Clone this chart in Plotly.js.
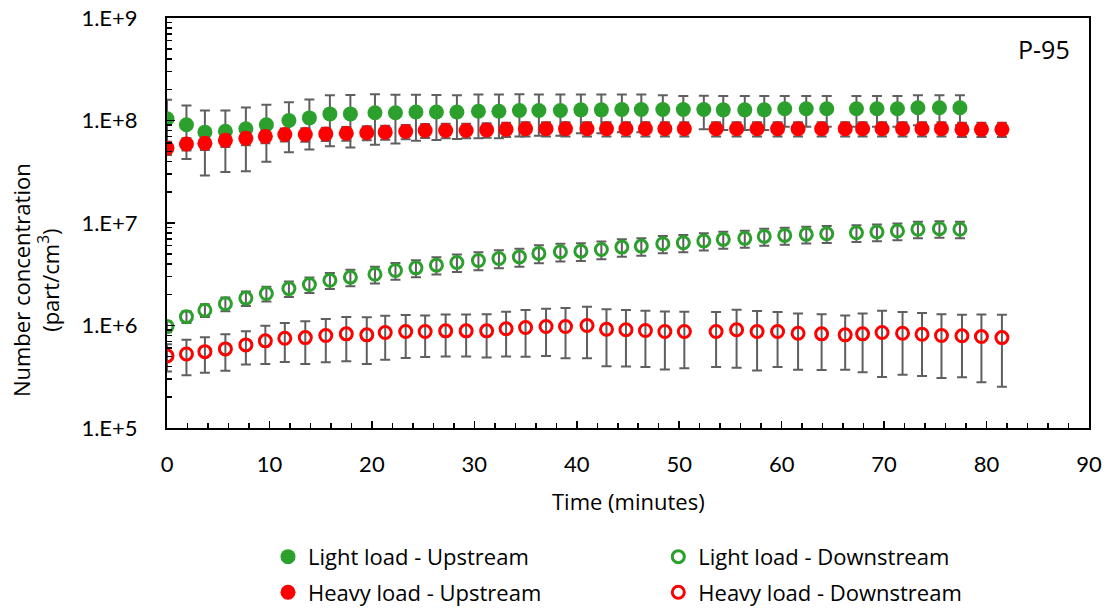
<!DOCTYPE html>
<html>
<head>
<meta charset="utf-8">
<script src="https://cdn.plot.ly/plotly-3.0.1.min.js"></script>
<style>html,body{margin:0;padding:0;background:#fff;}#chart{width:1112px;height:611px;}</style>
</head>
<body>
<div id="chart"></div>
<script>
// Time (minutes) for light-load runs
const timeLight = [0, 1.9, 3.7, 5.7, 7.7, 9.7, 11.9, 13.9, 15.9, 17.9, 20.3, 22.3, 24.3, 26.3, 28.3,
  30.4, 32.4, 34.4, 36.3, 38.4, 40.4, 42.4, 44.4, 46.3, 48.4, 50.4, 52.4, 54.3, 56.4, 58.3,
  60.3, 62.4, 64.4, 67.3, 69.3, 71.3, 73.3, 75.4, 77.4];
// Time (minutes) for heavy-load runs
const timeHeavy = [0, 1.9, 3.7, 5.7, 7.7, 9.6, 11.5, 13.5, 15.5, 17.5, 19.5, 21.3, 23.3, 25.2, 27.2, 29.2,
  31.2, 33.1, 35.0, 37.0, 38.9, 41.0, 42.9, 44.8, 46.7, 48.6, 50.5, 53.6, 55.6, 57.6,
  59.6, 61.6, 63.9, 66.2, 67.9, 69.8, 71.8, 73.7, 75.6, 77.6, 79.5, 81.5];

const lightUp = [1.04e8, 9.1e7, 7.7e7, 7.85e7, 8.3e7, 9.1e7, 1.0e8, 1.06e8, 1.16e8, 1.16e8, 1.19e8, 1.19e8, 1.21e8, 1.21e8, 1.21e8,
  1.23e8, 1.23e8, 1.25e8, 1.25e8, 1.25e8, 1.27e8, 1.27e8, 1.28e8, 1.28e8, 1.28e8, 1.28e8, 1.28e8, 1.27e8, 1.27e8, 1.27e8,
  1.30e8, 1.30e8, 1.30e8, 1.30e8, 1.30e8, 1.30e8, 1.33e8, 1.33e8, 1.33e8];
const lightUpErr = [5.5e7, 4.9e7, 4.8e7, 4.7e7, 5.1e7, 5.15e7, 5.1e7, 5.4e7, 6.0e7, 6.15e7, 6.1e7, 5.95e7, 5.75e7, 5.65e7, 5.5e7,
  5.6e7, 5.6e7, 5.5e7, 5.4e7, 5.4e7, 5.2e7, 5.2e7, 5.1e7, 5.1e7, 4.8e7, 4.5e7, 4.6e7, 4.6e7, 4.6e7, 4.6e7,
  4.3e7, 4.3e7, 4.3e7, 4.3e7, 4.3e7, 4.3e7, 4.3e7, 4.3e7, 4.3e7];

const lightDown = [9.8e5, 1.22e6, 1.41e6, 1.63e6, 1.85e6, 2.05e6, 2.29e6, 2.51e6, 2.76e6, 2.96e6, 3.16e6, 3.44e6, 3.65e6, 3.88e6, 4.12e6,
  4.31e6, 4.51e6, 4.67e6, 5.05e6, 5.24e6, 5.31e6, 5.52e6, 5.82e6, 5.95e6, 6.27e6, 6.41e6, 6.67e6, 6.92e6, 7.08e6, 7.4e6,
  7.57e6, 7.75e6, 7.86e6, 8.03e6, 8.17e6, 8.35e6, 8.68e6, 8.80e6, 8.68e6];
const lightDownErr = [1.2e5, 1.6e5, 2.0e5, 2.5e5, 3.0e5, 3.4e5, 3.9e5, 4.3e5, 4.9e5, 5.4e5, 5.9e5, 6.4e5, 6.9e5, 7.4e5, 8.0e5,
  8.6e5, 9.0e5, 9.3e5, 1.0e6, 1.03e6, 1.05e6, 1.08e6, 1.13e6, 1.15e6, 1.2e6, 1.23e6, 1.27e6, 1.3e6, 1.33e6, 1.4e6,
  1.42e6, 1.45e6, 1.47e6, 1.5e6, 1.52e6, 1.55e6, 1.6e6, 1.62e6, 1.6e6];

const heavyUp = [5.4e7, 5.9e7, 6.0e7, 6.4e7, 6.7e7, 7.0e7, 7.3e7, 7.3e7, 7.4e7, 7.5e7, 7.6e7, 7.7e7, 7.8e7, 8.0e7, 8.0e7, 8.0e7,
  8.1e7, 8.2e7, 8.3e7, 8.3e7, 8.3e7, 8.3e7, 8.3e7, 8.3e7, 8.3e7, 8.3e7, 8.3e7, 8.3e7, 8.3e7, 8.3e7,
  8.3e7, 8.3e7, 8.3e7, 8.3e7, 8.3e7, 8.3e7, 8.3e7, 8.3e7, 8.3e7, 8.2e7, 8.2e7, 8.2e7];
const heavyUpErr = [8e6, 8e6, 8.5e6, 9e6, 9.5e6, 1.0e7, 1.05e7, 1.1e7, 1.1e7, 1.15e7, 1.2e7, 1.2e7, 1.25e7, 1.25e7, 1.3e7, 1.3e7,
  1.3e7, 1.3e7, 1.3e7, 1.3e7, 1.3e7, 1.3e7, 1.3e7, 1.3e7, 1.3e7, 1.3e7, 1.3e7, 1.3e7, 1.3e7, 1.3e7,
  1.3e7, 1.3e7, 1.3e7, 1.3e7, 1.3e7, 1.3e7, 1.3e7, 1.3e7, 1.3e7, 1.3e7, 1.3e7, 1.3e7];

const heavyDown = [5.05e5, 5.27e5, 5.56e5, 5.91e5, 6.47e5, 7.08e5, 7.5e5, 7.62e5, 7.98e5, 8.29e5, 8.11e5, 8.54e5, 8.73e5, 8.73e5, 8.87e5, 8.87e5,
  8.87e5, 9.29e5, 9.56e5, 9.78e5, 9.78e5, 1.0e6, 9.2e5, 9.08e5, 8.94e5, 8.73e5, 8.73e5, 8.73e5, 9.08e5, 8.73e5,
  8.73e5, 8.41e5, 8.29e5, 8.11e5, 8.29e5, 8.54e5, 8.41e5, 8.22e5, 7.98e5, 7.93e5, 7.8e5, 7.62e5];
const heavyDownErr = [1.5e5, 2.0e5, 2.1e5, 2.3e5, 2.3e5, 2.86e5, 3.1e5, 3.4e5, 3.6e5, 3.8e5, 3.9e5, 3.9e5, 3.9e5, 3.8e5, 3.9e5, 3.9e5,
  4.0e5, 4.3e5, 4.6e5, 4.75e5, 5.0e5, 5.2e5, 5.2e5, 5.1e5, 5.0e5, 5.0e5, 4.9e5, 4.8e5, 5.2e5, 5.1e5,
  4.8e5, 4.7e5, 4.6e5, 4.4e5, 4.8e5, 5.4e5, 5.1e5, 5.0e5, 4.9e5, 4.8e5, 5.0e5, 5.1e5];

const seriesNames = ['Light load - Upstream', 'Light load - Downstream', 'Heavy load - Upstream', 'Heavy load - Downstream'];
const yTickVals = [1e5, 1e6, 1e7, 1e8, 1e9];
const yTickText = ['1.E+5', '1.E+6', '1.E+7', '1.E+8', '1.E+9'];
const xTickVals = [0, 10, 20, 30, 40, 50, 60, 70, 80, 90];
const xTitle = 'Time (minutes)';
const yTitle = 'Number concentration<br>(part/cm<sup>3</sup>)';
const panelLabel = 'P-95';

const GREEN = '#2CA02C', RED = '#FF0000', ERRC = '#5F5F5F';
const TICKFONT = 'Lato, Carlito, Calibri, sans-serif';
const TEXTFONT = '"Open Sans", Carlito, Calibri, sans-serif';

function errBar(arr) {
  return {type: 'data', array: arr, visible: true, color: ERRC, thickness: 2, width: 5};
}

const traces = [
  {x: timeLight, y: lightUp, name: seriesNames[0], type: 'scatter', mode: 'markers',
   marker: {symbol: 'circle', size: 15, color: GREEN}, error_y: errBar(lightUpErr),
   legend: 'legend', legendgroup: 'a'},
  {x: timeLight, y: lightDown, name: seriesNames[1], type: 'scatter', mode: 'markers',
   marker: {symbol: 'circle-open', size: 12, color: GREEN, line: {width: 3, color: GREEN}}, error_y: errBar(lightDownErr),
   legend: 'legend2', legendgroup: 'b'},
  {x: timeHeavy, y: heavyUp, name: seriesNames[2], type: 'scatter', mode: 'markers',
   marker: {symbol: 'circle', size: 15, color: RED}, error_y: errBar(heavyUpErr),
   legend: 'legend', legendgroup: 'c'},
  {x: timeHeavy, y: heavyDown, name: seriesNames[3], type: 'scatter', mode: 'markers',
   marker: {symbol: 'circle-open', size: 12, color: RED, line: {width: 3, color: RED}}, error_y: errBar(heavyDownErr),
   legend: 'legend2', legendgroup: 'd'}
];

const yMinor = [];
for (let e = 5; e < 9; e++) for (let m = 2; m <= 9; m++) yMinor.push(m * Math.pow(10, e));

const legendCommon = {
  orientation: 'v', xref: 'container', yref: 'container', yanchor: 'top', xanchor: 'left',
  font: {family: TEXTFONT, size: 22, color: '#000'}, bgcolor: 'rgba(0,0,0,0)', tracegroupgap: 4,
  itemwidth: 30
};

const layout = {
  width: 1112, height: 611,
  margin: {l: 167, r: 23, t: 18, b: 183, autoexpand: false},
  paper_bgcolor: '#fff', plot_bgcolor: '#fff',
  font: {family: TEXTFONT, size: 22, color: '#000'},
  showlegend: true,
  legend: Object.assign({}, legendCommon, {x: 0.241, y: 0.123}),
  legend2: Object.assign({}, legendCommon, {x: 0.592, y: 0.123}),
  xaxis: {
    range: [0, 90], tickmode: 'array', tickvals: xTickVals, automargin: false, tickangle: 0,
    ticks: 'inside', ticklen: 7, tickwidth: 1.5, tickcolor: '#000',
    minor: {dtick: 2, tick0: 0, ticks: 'inside', ticklen: 5, tickwidth: 1.5, tickcolor: '#000'},
    showline: true, linecolor: '#000', linewidth: 2, mirror: true,
    showgrid: false, zeroline: false, ticklabelstandoff: 16,
    tickfont: {family: TICKFONT, size: 22, color: '#000'}
  },
  yaxis: {
    type: 'log', range: [5, 9], tickmode: 'array', tickvals: yTickVals, ticktext: yTickText, automargin: false,
    ticks: 'inside', ticklen: 8, tickwidth: 1.5, tickcolor: '#000',
    minor: {tickmode: 'array', tickvals: yMinor, ticks: 'inside', ticklen: 5, tickwidth: 1.5, tickcolor: '#000'},
    showline: true, linecolor: '#000', linewidth: 2, mirror: true,
    showgrid: false, zeroline: false, ticklabelstandoff: 23,
    tickfont: {family: TICKFONT, size: 22, color: '#000'}
  },
  annotations: [
    {text: panelLabel, xref: 'paper', yref: 'paper', x: 0.982, y: 0.925, xanchor: 'right', yanchor: 'middle',
     showarrow: false, font: {family: TEXTFONT, size: 25, color: '#000'}},
    {text: xTitle, xref: 'paper', yref: 'paper', x: 0.5, y: -0.178, xanchor: 'center', yanchor: 'middle',
     showarrow: false, font: {family: TEXTFONT, size: 22, color: '#000'}},
    {text: yTitle, xref: 'paper', yref: 'paper', x: -0.142, y: 0.361, xanchor: 'center', yanchor: 'middle',
     textangle: -90, showarrow: false, font: {family: TEXTFONT, size: 22, color: '#000'}}
  ]
};

Plotly.newPlot('chart', traces, layout, {displayModeBar: false, staticPlot: true});
</script>
</body>
</html>
